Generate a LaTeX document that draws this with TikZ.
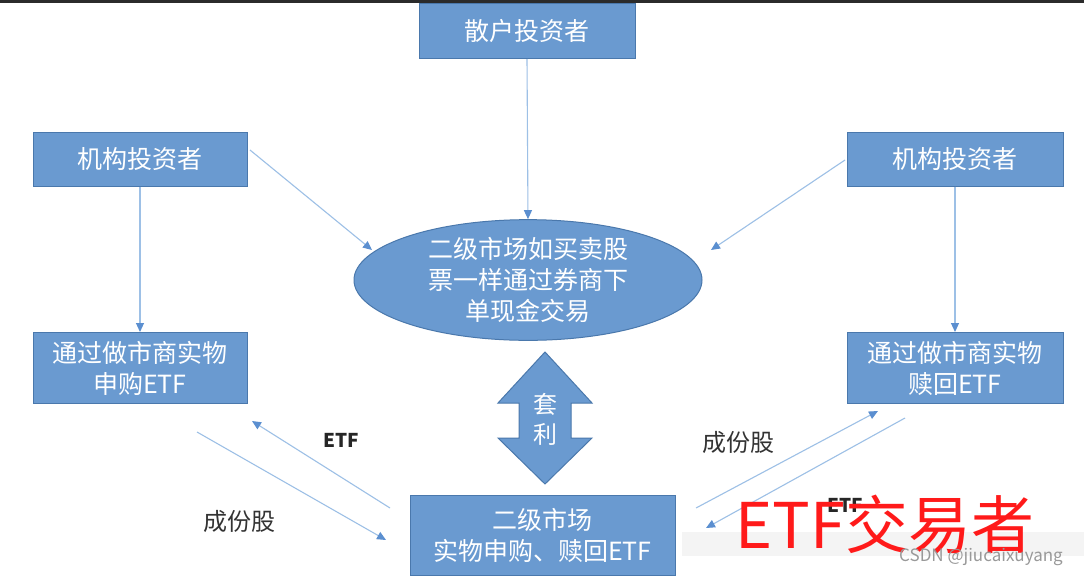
\documentclass[tikz,border=0pt]{standalone}
\usepackage{fontspec}
\setmainfont{Noto Sans CJK SC}
\usetikzlibrary{arrows.meta,shapes.geometric}
\definecolor{boxfill}{HTML}{6A9AD0}
\definecolor{boxline}{HTML}{4A78AC}
\definecolor{conn}{HTML}{9DC0E6}
\definecolor{tipc}{HTML}{5B8FD0}
\definecolor{redt}{HTML}{FF1A1A}
\tikzset{
  box/.style={draw=boxline, line width=1pt, fill=boxfill, text=white, align=center,
    font=\fontsize{25}{31}\selectfont, inner sep=0pt},
  conline/.style={draw=conn, line width=1.1pt, -{Triangle[length=9pt,width=8pt,color=tipc]}},
  lbl/.style={font=\fontsize{24}{28}\selectfont, text=black!80},
  etfl/.style={font=\fontsize{19}{22}\selectfont\bfseries, text=black!85},
}
\begin{document}
\begin{tikzpicture}[x=1pt,y=-1pt]
\useasboundingbox (0,0) rectangle (1084,576);
\fill[white] (0,0) rectangle (1084,576);
\fill[black!83] (0,0) rectangle (1084,3);
% boxes
\node[box, minimum width=216pt, minimum height=55pt] (retail) at (527,31) {散户投资者};
\node[box, minimum width=214pt, minimum height=54pt] (instL) at (140,159) {机构投资者};
\node[box, minimum width=216pt, minimum height=54pt] (instR) at (955,159) {机构投资者};
\node[box, ellipse, minimum width=348pt, minimum height=106pt] (mkt) at (528,280)
  {二级市场如买卖股\\票一样通过券商下\\单现金交易};
\node[box, minimum width=214pt, minimum height=71pt] (subL) at (140,368) {通过做市商实物\\申购ETF};
\node[box, minimum width=216pt, minimum height=71pt] (redR) at (955,368) {通过做市商实物\\赎回ETF};
\node[box, minimum width=265pt, minimum height=80pt] (sec) at (542.5,535) {二级市场\\实物申购、赎回ETF};
% double arrow
\draw[boxline, line width=1pt, fill=boxfill]
  (545,352) -- (592,403) -- (571,403) -- (571,438) -- (592,438) -- (545,484)
  -- (498,438) -- (519,438) -- (519,403) -- (498,403) -- cycle;
\node[text=white, align=center, font=\fontsize{24}{30}\selectfont] (arb) at (545,419) {套\\利};
% connectors
\draw[conline] (retail.south) -- (mkt.north);
\coordinate (a1) at (250,150);
\coordinate (a2) at (372,250);
\draw[conline] (a1) -- (a2);
\coordinate (b1) at (845,160);
\coordinate (b2) at (711,250);
\draw[conline] (b1) -- (b2);
\draw[conline] (instL.south) -- (subL.north);
\draw[conline] (instR.south) -- (redR.north);
\coordinate (c1) at (197,432);
\coordinate (c2) at (386,540);
\draw[conline] (c1) -- (c2);
\coordinate (d1) at (390,508);
\coordinate (d2) at (252,421);
\draw[conline] (d1) -- (d2);
\coordinate (e1) at (696,508);
\coordinate (e2) at (878,411);
\draw[conline] (e1) -- (e2);
\coordinate (f1) at (905,418);
\coordinate (f2) at (706,528);
\draw[conline] (f1) -- (f2);
% labels
\node[etfl] (etfL) at (341,440) {ETF};
\node[lbl] (cfL) at (239,521) {成份股};
\node[lbl] (cfR) at (738,442) {成份股};
\node[etfl] (etfR) at (845,505) {ETF};
% overlay
\fill[black!5, opacity=0.8] (682,532) rectangle (1084,556);
\node[text=redt, font=\fontsize{63}{66}\selectfont, inner sep=0pt] (trader) at (885,524) {ETF交易者};
\node[text=black!40, font=\fontsize{17}{19}\selectfont, inner sep=0pt] (wm) at (981,557) {CSDN @jiucaixuyang};
\end{tikzpicture}
\end{document}
